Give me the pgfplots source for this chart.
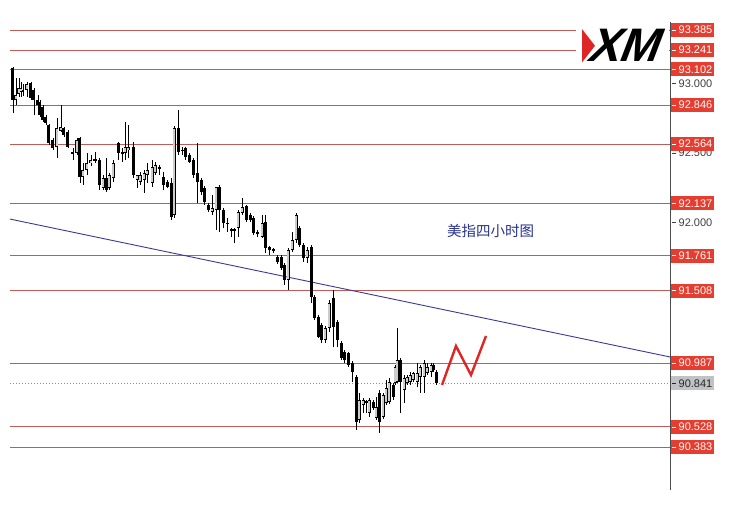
\documentclass[border=0pt]{standalone}
\usepackage{fontspec}
\setmainfont{Liberation Sans}
\newfontfamily\cjk{Noto Sans CJK SC}
\usepackage{pgfplots}
\pgfplotsset{compat=1.18}
\usepackage{pgfplotstable}

\definecolor{lvl}{RGB}{192,92,88}
\definecolor{lab}{RGB}{229,62,48}
\definecolor{trend}{RGB}{58,58,150}
\definecolor{zig}{RGB}{222,38,38}
\definecolor{txtblue}{RGB}{40,52,140}
\definecolor{graylab}{RGB}{192,194,198}

\pgfplotstableread{
x o h l c
13 93.111 93.119 92.787 92.881
16 92.881 93.039 92.845 92.917
19 92.924 93.039 92.903 92.967
21 92.939 93.011 92.903 92.967
23 92.946 92.996 92.910 92.953
27 92.953 93.011 92.903 92.996
31 93.003 93.011 92.881 92.895
34 92.953 92.967 92.773 92.881
38 92.881 92.917 92.773 92.845
40 92.867 92.881 92.759 92.773
43 92.831 92.845 92.723 92.737
46 92.759 92.773 92.701 92.715
49 92.701 92.708 92.557 92.571
53 92.593 92.607 92.521 92.535
57 92.543 92.751 92.463 92.679
61 92.658 92.845 92.651 92.687
64 92.679 92.687 92.615 92.629
68 92.651 92.665 92.535 92.543
73 92.503 92.535 92.449 92.499
77 92.499 92.607 92.485 92.593
80 92.607 92.615 92.283 92.327
83 92.327 92.427 92.269 92.377
87 92.377 92.499 92.341 92.427
91 92.427 92.485 92.406 92.449
95 92.452 92.507 92.427 92.449
99 92.449 92.463 92.233 92.269
103 92.247 92.341 92.233 92.319
106 92.319 92.463 92.219 92.233
109 92.247 92.355 92.233 92.341
113 92.319 92.449 92.291 92.427
118 92.571 92.579 92.449 92.499
122 92.503 92.535 92.435 92.499
125 92.499 92.723 92.449 92.543
128 92.521 92.701 92.463 92.543
133 92.543 92.579 92.319 92.341
137 92.305 92.341 92.247 92.341
140 92.291 92.363 92.269 92.341
144 92.305 92.377 92.211 92.355
147 92.341 92.427 92.283 92.377
152 92.283 92.449 92.255 92.399
155 92.355 92.435 92.341 92.413
159 92.394 92.413 92.341 92.391
163 92.327 92.363 92.233 92.269
167 92.291 92.305 92.247 92.255
171 92.283 92.319 92.017 92.039
174 92.053 92.694 92.031 92.679
178 92.679 92.809 92.485 92.507
182 92.521 92.543 92.485 92.518
185 92.535 92.543 92.449 92.471
189 92.485 92.499 92.427 92.435
193 92.449 92.463 92.319 92.341
197 92.355 92.571 92.139 92.291
201 92.305 92.319 92.197 92.219
204 92.247 92.262 92.125 92.147
208 92.125 92.139 92.075 92.089
212 92.075 92.197 92.053 92.103
216 92.089 92.255 91.945 92.255
219 92.255 92.269 91.931 92.089
223 92.089 92.103 91.959 91.995
227 91.998 92.031 91.931 91.995
231 91.948 91.959 91.895 91.945
234 91.945 91.959 91.851 91.948
238 91.959 92.089 91.895 92.075
242 92.067 92.175 92.053 92.111
246 92.118 92.125 92.003 92.017
250 92.053 92.067 92.003 92.017
253 92.031 92.046 91.909 91.923
257 91.926 91.945 91.895 91.923
262 91.895 92.053 91.887 91.995
265 92.003 92.053 91.779 91.815
269 91.823 91.830 91.765 91.801
273 91.804 91.815 91.779 91.801
277 91.751 91.765 91.700 91.715
281 91.751 91.765 91.657 91.671
284 91.693 91.707 91.549 91.585
288 91.585 91.815 91.513 91.801
292 91.801 91.931 91.787 91.873
296 91.873 92.067 91.851 92.053
299 91.959 91.974 91.823 91.837
303 91.837 91.851 91.715 91.743
307 91.743 91.823 91.707 91.801
311 91.823 91.837 91.419 91.463
314 91.463 91.477 91.297 91.311
318 91.319 91.333 91.167 91.175
321 91.261 91.275 91.131 91.153
325 91.153 91.254 91.131 91.239
329 91.239 91.441 91.211 91.419
333 91.455 91.513 91.103 91.247
337 91.283 91.297 91.103 91.153
341 91.131 91.146 91.009 91.023
344 91.067 91.081 90.987 91.009
348 91.059 91.067 90.959 90.973
352 90.987 91.002 90.851 90.923
356 90.887 90.901 90.505 90.563
359 90.577 90.771 90.555 90.721
363 90.685 90.735 90.627 90.721
366 90.710 90.721 90.627 90.707
369 90.627 90.735 90.599 90.721
373 90.707 90.721 90.649 90.663
376 90.591 90.743 90.577 90.671
379 90.771 90.793 90.483 90.563
383 90.599 90.771 90.584 90.757
386 90.699 90.865 90.685 90.807
389 90.707 90.879 90.692 90.851
393 90.829 90.843 90.721 90.743
395 90.843 90.973 90.829 90.959
397 90.851 91.239 90.843 91.009
400 91.009 91.023 90.627 90.851
404 90.793 90.901 90.699 90.879
407 90.843 90.901 90.829 90.887
410 90.851 90.923 90.829 90.901
413 90.865 90.923 90.851 90.915
417 90.851 90.987 90.815 90.915
420 90.887 90.973 90.771 90.959
424 90.887 91.009 90.771 90.987
427 90.915 90.987 90.901 90.959
431 90.923 90.987 90.887 90.973
433 90.973 90.987 90.923 90.937
436 90.923 90.937 90.829 90.843
}\candles

\begin{document}
\begin{tikzpicture}
\useasboundingbox[fill=white] (0,0) rectangle (737pt,507pt);
\begin{axis}[
  at={(10pt,17pt)}, anchor=south west,
  width=660pt, height=468pt, scale only axis,
  xmin=10, xmax=670, ymin=90.073, ymax=93.443,
  axis x line=none, axis y line*=right,
  y axis line style={draw=black!70, line width=0.8pt},
  ytick=\empty, xtick=\empty,
  clip=false,
]
% horizontal levels
\pgfplotsinvokeforeach{93.385,93.241,93.102,92.846,92.564,92.137,91.761,91.508,90.987,90.528,90.383}{
  \addplot[lvl, line width=0.8pt] coordinates {(10,#1) (670,#1)};
}
% current price dotted
\addplot[black!45, line width=0.6pt, dash pattern=on 1pt off 2pt] coordinates {(10,90.841) (670,90.841)};
% trend line
\addplot[trend, line width=0.9pt] coordinates {(10,92.024) (670,91.031)};
% wicks
\addplot[draw=none, mark=none, error bars/.cd, y dir=both, y explicit, error mark=none,
  error bar style={draw=black, solid, line width=0.8pt}]
  table[x=x, y expr=(\thisrow{h}+\thisrow{l})/2, y error expr=(\thisrow{h}-\thisrow{l})/2] {\candles};
% bear bodies
\addplot[draw=none, mark=none, restrict expr to domain={\thisrow{o}-\thisrow{c}}{0:10},
  error bars/.cd, y dir=both, y explicit, error mark=none,
  error bar style={draw=black, solid, line width=3pt}]
  table[x=x, y expr=(\thisrow{o}+\thisrow{c})/2, y error expr={max(abs(\thisrow{o}-\thisrow{c})/2,0.004)}] {\candles};
% bull bodies outline
\addplot[draw=none, mark=none, restrict expr to domain={\thisrow{c}-\thisrow{o}}{0.00001:10},
  error bars/.cd, y dir=both, y explicit, error mark=none,
  error bar style={draw=black, solid, line width=3pt}]
  table[x=x, y expr=(\thisrow{o}+\thisrow{c})/2, y error expr={max(abs(\thisrow{o}-\thisrow{c})/2,0.004)}] {\candles};
% bull bodies inside
\addplot[draw=none, mark=none, restrict expr to domain={\thisrow{c}-\thisrow{o}}{0.00001:10},
  error bars/.cd, y dir=both, y explicit, error mark=none,
  error bar style={draw=white!80!black, solid, line width=1.2pt}]
  table[x=x, y expr=(\thisrow{o}+\thisrow{c})/2, y error expr={max(abs(\thisrow{o}-\thisrow{c})/2-0.006,0)}] {\candles};
% zigzag
\addplot[zig, line width=2.4pt, line join=miter] coordinates {(442,90.829) (456,91.110) (471,90.901) (486,91.182)};

% logo
\fill[white] (axis cs:576,93.432) rectangle (axis cs:669.4,93.150);
\fill[zig] (axis cs:582,93.392) -- (axis cs:595,93.272) -- (axis cs:582,93.152) -- cycle;
\node[font=\fontsize{47}{47}\selectfont\bfseries, xslant=0.38, transform shape, inner sep=0pt, anchor=center] at (axis cs:628,93.277) {XM};

% chinese title
\node[font=\cjk\fontsize{14.5}{15}\selectfont, text=txtblue, anchor=west, inner sep=0pt] at (axis cs:447,91.938) {美指四小时图};

% gray tick labels
\pgfplotsinvokeforeach{93.000,92.500,92.000}{
  \node[anchor=west, inner xsep=1.5pt, inner ysep=0pt, text=black!75, font=\fontsize{11}{12}\selectfont] at (axis cs:670.5,#1) {\rule[3.5pt]{4pt}{0.6pt}\hspace{2.5pt}#1};
}
% red level labels
\pgfplotsinvokeforeach{93.385,93.241,93.102,92.846,92.564,92.137,91.761,91.508,90.987,90.528,90.383}{
  \node[anchor=west, fill=lab, text=white, inner xsep=1.5pt, inner ysep=0pt, minimum height=14pt, font=\fontsize{11}{12}\selectfont] at (axis cs:670.5,#1) {\rule[3.5pt]{4pt}{0.6pt}\hspace{2.5pt}#1};
}
% current price label
\node[anchor=west, fill=graylab, text=black!85, inner xsep=1.5pt, inner ysep=0pt, minimum height=14pt, font=\fontsize{11}{12}\selectfont] at (axis cs:670.5,90.841) {\rule[3.5pt]{4pt}{0.6pt}\hspace{2.5pt}90.841};
\end{axis}
\end{tikzpicture}
\end{document}
